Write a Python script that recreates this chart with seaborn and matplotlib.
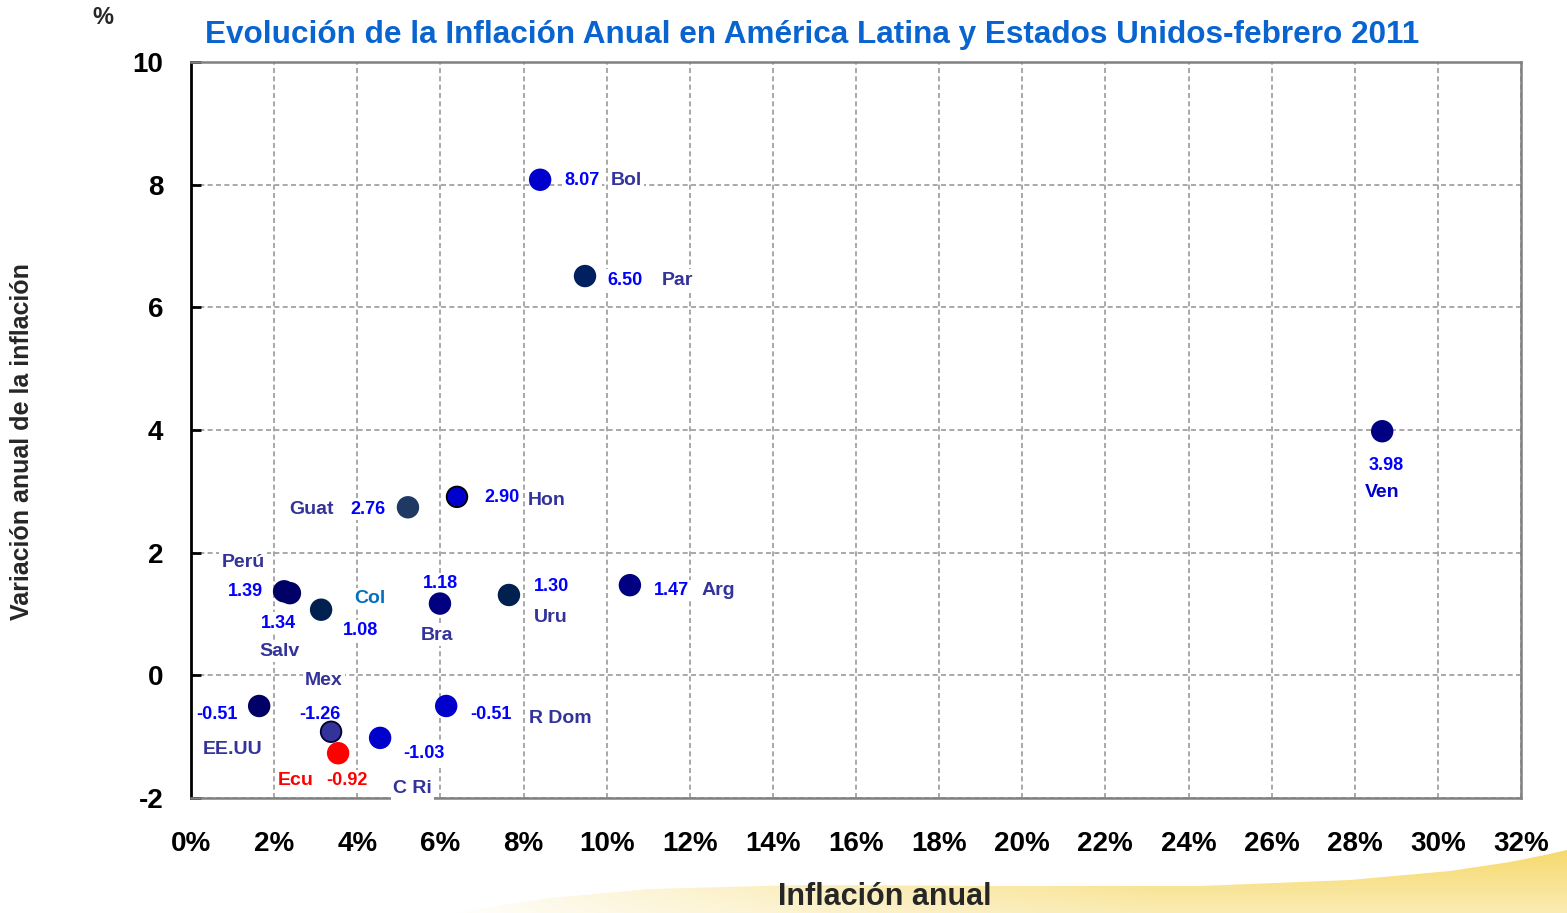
import numpy as np
import pandas as pd
import matplotlib.pyplot as plt
import seaborn as sns
from matplotlib.patches import Polygon

# datos
paises = ['Bol', 'Par', 'Ven', 'Guat', 'Hon', 'Perú', 'Salv', 'Col', 'Bra', 'Uru',
          'Arg', 'EE.UU', 'R Dom', 'Mex', 'Ecu', 'C Ri']
inflacion = [8.40, 9.48, 28.66, 5.22, 6.40, 2.24, 2.38, 3.13, 5.99, 7.65,
             10.56, 1.64, 6.14, 3.37, 3.54, 4.55]
variacion = [8.08, 6.51, 3.98, 2.74, 2.91, 1.37, 1.34, 1.07, 1.17, 1.31,
             1.47, -0.50, -0.50, -0.92, -1.27, -1.02]
etiquetas = ['8.07', '6.50', '3.98', '2.76', '2.90', '1.39', '1.34', '1.08', '1.18', '1.30',
             '1.47', '-0.51', '-0.51', '-1.26', '-0.92', '-1.03']

x_ticks = list(range(0, 33, 2))
y_ticks = [-2, 0, 2, 4, 6, 8, 10]

# estilo
relleno = ['#0000CC', '#002060', '#000080', '#1F3864', '#0000CC', '#000066', '#000066', '#002050',
           '#000080', '#002050', '#000080', '#000066', '#0000CC', '#333399', '#FF0000', '#0000CC']
borde = ['#0000CC', '#002060', '#000080', '#1F3864', '#000000', '#000066', '#000066', '#002050',
         '#000080', '#002050', '#000080', '#000066', '#0000CC', '#000033', '#FF0000', '#0000CC']
col_valor = ['#0000FF'] * 16
col_valor[14] = '#FF0000'
col_nombre = ['#333399'] * 16
col_nombre[2] = '#0000CC'
col_nombre[7] = '#0070C0'
col_nombre[14] = '#FF0000'
# desplazamientos de las etiquetas (pixeles): valor, nombre
off_valor = [(42, -1), (40, -4), (4, -34), (-40, -2), (45, -1), (-39, 0), (-11, -30), (39, -21),
             (0, 20), (43, 8), (42, -5), (-42, -8), (45, -8), (-11, 17), (9, -27), (44, -16)]
off_nombre = [(86, -1), (92, -4), (0, -61), (-96, -2), (90, -4), (-41, 29), (-10, -58), (49, 11),
              (-3, -32), (42, -23), (88, -5), (-27, -43), (114, -12), (-7, 51), (-42, -27), (32, -51)]

df = pd.DataFrame({'pais': paises, 'inflacion': inflacion, 'variacion': variacion})

sns.set_theme(style='white')
plt.rcParams['font.family'] = ['Liberation Sans', 'DejaVu Sans']
narrow = ['Liberation Sans Narrow', 'Liberation Sans', 'DejaVu Sans']

fig = plt.figure(figsize=(15.67, 9.13), dpi=100)
fig.patch.set_facecolor('white')

# franja amarilla decorativa (fondo)
bg = fig.add_axes([0, 0, 1, 1], zorder=-5)
bg.set_xlim(0, 1567)
bg.set_ylim(913, 0)
bg.axis('off')
grad = np.zeros((100, 400, 4))
xs = np.linspace(0, 1, 400)
ys = np.linspace(0, 1, 100)[:, None]
grad[..., 0] = 0.96
grad[..., 1] = 0.82
grad[..., 2] = 0.30
grad[..., 3] = np.clip((xs[None, :] - 0.29) / 0.45, 0, 1) ** 0.7 * (0.5 + 0.5 * ys) * 0.85
img = bg.imshow(grad, extent=(0, 1567, 845, 913), origin='upper', aspect='auto', zorder=-5)
curva_x = np.array([450, 550, 650, 800, 1000, 1200, 1350, 1450, 1510, 1545, 1567, 1567, 450])
curva_y = np.array([913, 898, 889, 885, 886, 886, 880, 871, 862, 855, 850, 913, 913])
poly = Polygon(np.column_stack([curva_x, curva_y]), closed=True, fc='none', ec='none')
bg.add_patch(poly)
img.set_clip_path(poly)

ax = fig.add_axes([191 / 1567, 1 - 798 / 913, (1521 - 191) / 1567, (798 - 62) / 913])
ax.set_facecolor('white')

sns.scatterplot(data=df, x='inflacion', y='variacion', hue='pais',
                palette=dict(zip(paises, relleno)), edgecolor=borde, linewidth=1.3,
                s=220, legend=False, ax=ax, zorder=5)

for i in range(len(paises)):
    ax.annotate(etiquetas[i], (inflacion[i], variacion[i]), xytext=off_valor[i],
                textcoords='offset pixels', ha='center', va='center', fontsize=13,
                fontweight='bold', color=col_valor[i], zorder=4,
                bbox=dict(fc='white', ec='none', pad=1.5))
    ax.annotate(paises[i], (inflacion[i], variacion[i]), xytext=off_nombre[i],
                textcoords='offset pixels', ha='center', va='center', fontsize=14,
                fontweight='bold', color=col_nombre[i], zorder=4,
                bbox=dict(fc='white', ec='none', pad=1.5))

ax.set_xlim(0, 32)
ax.set_ylim(-2, 10)
ax.set_xticks(x_ticks)
ax.set_xticklabels([f'{t}%' for t in x_ticks])
ax.set_yticks(y_ticks)
ax.set_yticklabels([str(t) for t in y_ticks])
ax.grid(True, color='#9A9A9A', linestyle=(0, (3, 2)), linewidth=1.2)
ax.set_axisbelow(True)
for lab in ax.get_xticklabels() + ax.get_yticklabels():
    lab.set_family(narrow)
    lab.set_fontweight('bold')
    lab.set_fontsize(20)
    lab.set_color('black')
ax.tick_params(axis='x', length=0, pad=24)
ax.tick_params(axis='y', direction='in', length=7, width=2, color='black', pad=20, left=True)

ax.spines['left'].set_color('black')
ax.spines['left'].set_linewidth(2)
for s in ['top', 'right', 'bottom']:
    ax.spines[s].set_color('#808080')
    ax.spines[s].set_linewidth(1.8)

ax.set_xlabel('')
ax.set_ylabel('')
fig.text(885 / 1567, 1 - 897 / 913, 'Inflación anual', ha='center', va='center',
         fontsize=22, fontweight='bold', family=narrow)
fig.text(22 / 1567, 1 - 442 / 913, 'Variación anual de la inflación', ha='center', va='center',
         rotation=90, fontsize=18, fontweight='bold', family=narrow)
fig.text(103 / 1567, 1 - 18 / 913, '%', ha='center', va='center', fontsize=17, fontweight='bold')
fig.text(812 / 1567, 1 - 35 / 913,
         'Evolución de la Inflación Anual en América Latina y Estados Unidos-febrero 2011',
         ha='center', va='center', fontsize=22.7, fontweight='bold', color='#0A64D0')

fig.savefig('out.png', dpi=100, facecolor='white')
